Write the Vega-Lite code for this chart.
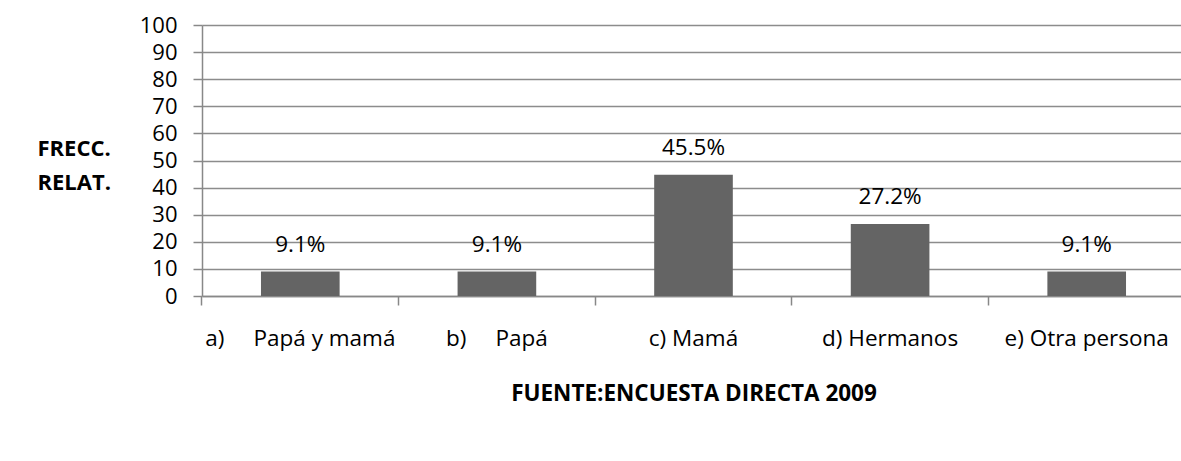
{
  "$schema": "https://vega.github.io/schema/vega-lite/v6.json",
  "autosize": {"type": "none"},
  "padding": {"left": 202, "top": 25, "right": 0, "bottom": 165},
  "width": 983,
  "height": 271,
  "background": "white",
  "config": {
    "font": "Open Sans",
    "view": {"stroke": null},
    "axis": {"labelColor": "#000000", "titleColor": "#000000", "domainColor": "#888888", "tickColor": "#888888", "gridColor": "#8c8c8c", "domainWidth": 1.5, "tickWidth": 1.5, "gridWidth": 1.5}
  },
  "data": {
    "values": [
      {"cat": "a)\u00a0\u00a0\u00a0\u00a0\u00a0Papá y mamá", "value": 9, "label": "9.1%"},
      {"cat": "b)\u00a0\u00a0\u00a0\u00a0\u00a0Papá", "value": 9, "label": "9.1%"},
      {"cat": "c) Mamá", "value": 44.7, "label": "45.5%"},
      {"cat": "d) Hermanos", "value": 26.6, "label": "27.2%"},
      {"cat": "e) Otra persona", "value": 9, "label": "9.1%"}
    ]
  },
  "encoding": {
    "x": {
      "field": "cat", "type": "nominal", "sort": null,
      "scale": {"paddingInner": 0.6, "paddingOuter": 0.3},
      "axis": {
        "title": "FUENTE:ENCUESTA DIRECTA 2009",
        "titleFont": "Open Sans", "titleFontSize": 22.5, "titleFontWeight": "bold",
        "titleBaseline": "alphabetic", "titleY": 104,
        "labelAngle": 0, "labelFontSize": 22.5, "labelPadding": 22, "tickSize": 9,
        "ticks": true, "tickColor": "#888888", "tickWidth": 1.5,
        "bandPosition": -0.75, "labelAlign": "center",
        "grid": false, "labelLimit": 300
      }
    },
    "y": {
      "field": "value", "type": "quantitative",
      "scale": {"domain": [0, 100], "nice": false},
      "axis": {
        "values": [0, 10, 20, 30, 40, 50, 60, 70, 80, 90, 100],
        "title": ["FRECC.", "RELAT."],
        "titleAngle": 0, "titleAlign": "left", "titleBaseline": "alphabetic",
        "titleX": -165, "titleY": 130, "titleLineHeight": 34,
        "titleFontSize": 22, "titleFontWeight": "bold",
        "labelFontSize": 22, "labelPadding": 16, "tickSize": 9,
        "grid": true
      }
    }
  },
  "layer": [
    {"mark": {"type": "bar", "color": "#646464"}},
    {
      "mark": {"type": "text", "fontSize": 22.5, "color": "#000000", "baseline": "middle", "dy": -27},
      "encoding": {"text": {"field": "label"}}
    }
  ]
}
